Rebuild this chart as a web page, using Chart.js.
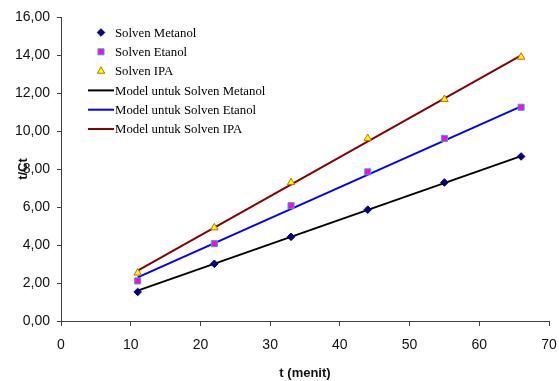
<!DOCTYPE html>
<html>
<head>
<meta charset="utf-8">
<script src="https://cdn.jsdelivr.net/npm/chart.js@4"></script>
<style>
  html, body { margin: 0; padding: 0; background: #fff; }
  #wrap { width: 559px; height: 381px; }
</style>
</head>
<body>
<div id="wrap"><canvas id="myChart"></canvas></div>
<script>
// measured points (t in menit)
const tMenit = [11, 22, 33, 44, 55, 66];
const metanol = [1.53, 3.01, 4.43, 5.86, 7.29, 8.66];
const etanol = [2.11, 4.07, 6.07, 7.85, 9.61, 11.25];
const ipa = [2.53, 4.91, 7.29, 9.61, 11.67, 13.89];

// model lines, end points only
const modelT = [11, 66];
const modelMetanol = [1.6, 8.68];
const modelEtanol = [2.3, 11.3];
const modelIpa = [2.65, 13.98];

const xTicks = [0, 10, 20, 30, 40, 50, 60, 70];
const yTicks = [0, 2, 4, 6, 8, 10, 12, 14, 16];

const legendNames = [
  'Solven Metanol', 'Solven Etanol', 'Solven IPA',
  'Model untuk Solven Metanol', 'Model untuk Solven Etanol', 'Model untuk Solven IPA'
];

const pts = (xs, ys) => xs.map((x, i) => ({ x: x, y: ys[i] }));

const ctx = document.getElementById('myChart');

// legend drawn inside the plot, excel style
const innerLegend = {
  id: 'innerLegend',
  afterDraw(chart) {
    const c = chart.ctx;
    c.save();
    c.font = '12.8px "Liberation Serif", "Times New Roman", serif';
    c.textBaseline = 'middle';
    c.fillStyle = '#000';
    chart.data.datasets.forEach((ds, i) => {
      const y = 32.5 + i * 19.3;
      if (ds.showLine === false) {
        c.fillStyle = ds.pointBackgroundColor;
        c.strokeStyle = ds.pointBorderColor;
        c.lineWidth = 1;
        Chart.helpers.drawPoint(c, { pointStyle: ds.pointStyle, radius: ds.pointRadius, borderWidth: 1 }, 101, y);
      } else {
        c.strokeStyle = ds.borderColor;
        c.lineWidth = 2;
        c.beginPath();
        c.moveTo(88, y);
        c.lineTo(114, y);
        c.stroke();
      }
      c.fillStyle = '#000';
      c.fillText(legendNames[i], 115, y + 1);
    });
    c.restore();
  }
};

const config = {
  type: 'scatter',
  data: {
    datasets: [
      {
        label: legendNames[0],
        data: pts(tMenit, metanol),
        showLine: false,
        pointStyle: 'rectRot',
        pointRadius: 3.8,
        pointBackgroundColor: '#000080',
        pointBorderColor: '#000080',
        pointBorderWidth: 1,
        order: 1,
      },
      {
        label: legendNames[1],
        data: pts(tMenit, etanol),
        showLine: false,
        pointStyle: 'rect',
        pointRadius: 4.3,
        pointBackgroundColor: '#ff00ff',
        pointBorderColor: '#33aaaa',
        pointBorderWidth: 1,
        order: 1,
      },
      {
        label: legendNames[2],
        data: pts(tMenit, ipa),
        showLine: false,
        pointStyle: 'triangle',
        pointRadius: 4.3,
        pointBackgroundColor: '#ffff00',
        pointBorderColor: '#cc6600',
        pointBorderWidth: 1,
        order: 1,
      },
      {
        label: legendNames[3],
        data: pts(modelT, modelMetanol),
        showLine: true,
        borderColor: '#000000',
        borderWidth: 2,
        pointRadius: 0,
        order: 2,
      },
      {
        label: legendNames[4],
        data: pts(modelT, modelEtanol),
        showLine: true,
        borderColor: '#0000ff',
        borderWidth: 2,
        pointRadius: 0,
        order: 2,
      },
      {
        label: legendNames[5],
        data: pts(modelT, modelIpa),
        showLine: true,
        borderColor: '#880000',
        borderWidth: 2,
        pointRadius: 0,
        order: 2,
      },
    ],
  },
  options: {
    responsive: true,
    maintainAspectRatio: false,
    animation: false,
    layout: { padding: { top: 17, right: 2, left: 0, bottom: 0 } },
    plugins: {
      legend: { display: false },
      tooltip: { enabled: false },
    },
    scales: {
      x: {
        type: 'linear',
        min: 0,
        max: 70,
        afterBuildTicks: (s) => { s.ticks = xTicks.map(v => ({ value: v })); },
        afterFit: (s) => {
          s.height = 60;
          s.paddingLeft = 0;
          s.paddingRight = 10;
        },
        grid: { drawOnChartArea: false, tickLength: 5, color: '#404040' },
        border: { color: '#404040', width: 1 },
        ticks: {
          color: '#111',
          font: { family: 'Liberation Sans, Arial, sans-serif', size: 14 },
          padding: 11,
          maxRotation: 0,
        },
        title: {
          display: true,
          text: 't (menit)',
          color: '#111',
          font: { family: 'Liberation Sans, Arial, sans-serif', size: 13, weight: 'bold' },
          padding: 0,
        },
      },
      y: {
        type: 'linear',
        min: 0,
        max: 16,
        afterBuildTicks: (s) => { s.ticks = yTicks.map(v => ({ value: v })); },
        afterFit: (s) => { s.width = 61; },
        grid: { drawOnChartArea: false, tickLength: 4, color: '#404040' },
        border: { color: '#404040', width: 1 },
        ticks: {
          color: '#111',
          font: { family: 'Liberation Sans, Arial, sans-serif', size: 14 },
          padding: 7,
          callback: (v) => v.toFixed(2).replace('.', ','),
        },
        title: {
          display: true,
          text: 't/Ct',
          color: '#111',
          font: { family: 'Liberation Sans, Arial, sans-serif', size: 13, weight: 'bold' },
          padding: { top: 16, bottom: 0 },
        },
      },
    },
  },
  plugins: [innerLegend],
};

new Chart(ctx, config);
</script>
</body>
</html>
